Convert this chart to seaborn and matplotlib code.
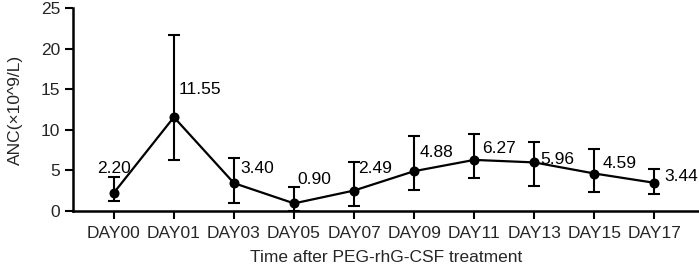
import numpy as np
import matplotlib
matplotlib.use("Agg")
import matplotlib.pyplot as plt
import seaborn as sns

days = ["DAY00", "DAY01", "DAY03", "DAY05", "DAY07", "DAY09", "DAY11", "DAY13", "DAY15", "DAY17"]
anc_mean = [2.20, 11.55, 3.40, 0.90, 2.49, 4.88, 6.27, 5.96, 4.59, 3.44]
anc_upper = [4.2, 21.7, 6.5, 2.9, 6.05, 9.2, 9.45, 8.5, 7.6, 5.1]
anc_lower = [1.25, 6.2, 0.95, 0.0, 0.6, 2.55, 4.0, 3.1, 2.35, 2.05]
labels = ["2.20", "11.55", "3.40", "0.90", "2.49", "4.88", "6.27", "5.96", "4.59", "3.44"]

# label offsets in pixels (dx, dy) from each point
label_off = [(0, 24), (5, 28), (6, 15), (3, 24), (4, 22), (5, 19), (8, 11), (6, 3), (8, 10), (10, 6)]

sns.set_style("ticks")
plt.rcParams["font.family"] = ["Liberation Sans", "DejaVu Sans"]
fs = 12.5

fig = plt.figure(figsize=(6.99, 2.66), dpi=100)
ax = fig.add_axes([0.1044, 0.208, 0.8946, 0.761])

sns.pointplot(x=days, y=anc_mean, color="black", errorbar=None,
              markers="o", linewidth=1.6, markersize=6, ax=ax)
xs = np.arange(len(days))
mean = np.array(anc_mean)
ax.errorbar(xs, mean, yerr=[mean - np.array(anc_lower), np.array(anc_upper) - mean],
            fmt="none", ecolor="black", elinewidth=1.5, capsize=4, capthick=1.5)

for i, t in enumerate(labels):
    ha = "center" if i == 0 else "left"
    ax.annotate(t, (xs[i], mean[i]), xytext=label_off[i], textcoords="offset pixels",
                ha=ha, va="center", fontsize=fs, color="black")

ax.set_xlim(-0.68, 9.73)
ax.set_ylim(0, 25)
ax.set_yticks([0, 5, 10, 15, 20, 25])
ax.set_xlabel("Time after PEG-rhG-CSF treatment", fontsize=fs, labelpad=6.5)
ax.set_ylabel("ANC(×10^9/L)", fontsize=fs, labelpad=13)
ax.tick_params(axis="both", labelsize=fs, width=1.5, length=6, color="black", pad=3)
ax.tick_params(axis="x", pad=5)
for s in ["top", "right"]:
    ax.spines[s].set_visible(False)
for s in ["left", "bottom"]:
    ax.spines[s].set_linewidth(1.8)
    ax.spines[s].set_color("black")
ax.grid(False)

fig.savefig("out.png", dpi=100)
